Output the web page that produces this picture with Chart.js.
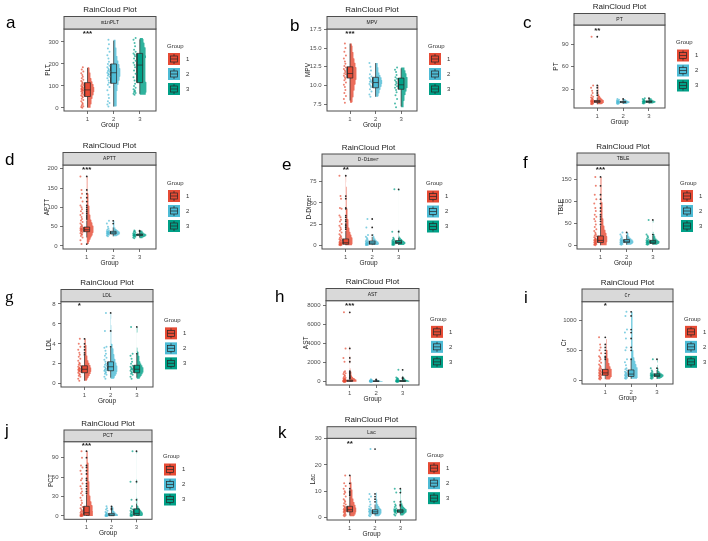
<!DOCTYPE html>
<html><head><meta charset="utf-8">
<script src="https://cdn.jsdelivr.net/npm/chart.js@4.4.1/dist/chart.umd.min.js"></script>
<style>
html,body{margin:0;padding:0;background:#fff;width:708px;height:541px;overflow:hidden;}
canvas{position:absolute;left:0;top:0;}
</style></head><body>
<script>
// ---------- DATA ----------
const groupLabels = ['1','2','3'];
const groupColors = ['#E64B35','#4DBBD5','#00A087'];

// a: minPLT
const minPLT_rain = [
 [1,4,8,12,18,24,30,36,42,48,52,56,60,64,68,72,75,78,80,82,84,86,88,91,94,97,100,104,108,112,117,122,128,135,142,150,158,166,175,185],
 [6,15,22,30,45,60,80,95,105,115,125,135,142,148,152,156,160,164,168,172,178,185,192,200,210,225,240,255,270,290,310],
 [60,64,68,72,76,80,85,92,100,110,125,140,155,170,185,195,205,215,225,235,242,248,255,265,280,295,310,318]];
const minPLT_box = [[2,52,82,115,182],[6,112,160,200,306],[64,115,195,248,312]];
const minPLT_out = [[],[],[]];
const minPLT_ticks = [0,100,200,300];
const minPLT_range = [-14,359];

// b: MPV
const MPV_rain = [
 [7.7,8.2,8.6,9.0,9.4,9.8,10.1,10.4,10.7,10.9,11.1,11.3,11.5,11.6,11.8,12.0,12.2,12.4,12.6,12.9,13.2,13.6,14.0,14.5,15.0,15.6],
 [8.5,8.8,9.2,9.5,9.8,10.0,10.2,10.4,10.5,10.6,10.8,11.0,11.2,11.5,12.0,12.5,13.0],
 [7.1,7.6,8.2,8.7,9.1,9.4,9.7,9.9,10.1,10.3,10.5,10.7,10.9,11.1,11.4,11.8,12.1,12.4]];
const MPV_box = [[8.0,11.0,11.6,12.5,15.6],[8.5,9.7,10.4,11.1,13.0],[7.2,9.5,10.1,11.0,12.3]];
const MPV_out = [[],[],[]];
const MPV_ticks = [7.5,10,12.5,15,17.5];
const MPV_range = [6.6,17.55];

// c: PT
const PT_rain = [
 [10,10.5,11,11.5,12,12.5,13,13.3,13.6,14,14.4,14.8,15.3,16,17,18,19,20,22,25,28,32,35,100],
 [10.5,11,11.5,12,12.3,12.6,12.9,13.2,13.5,14,14.5,15,16,17],
 [11,11.5,12,12.5,13,13.3,13.6,14,14.5,15,16,17,18]];
const PT_box = [[10,12.5,13.6,15,19],[10.5,12.2,13,13.8,16],[11,12.5,13.5,14.5,17]];
const PT_out = [[22,25,28,32,35,100],[17],[18]];
const PT_ticks = [30,60,90];
const PT_range = [5,115.7];

// d: APTT
const APTT_rain = [
 [5,15,22,26,29,31,33,35,37,38,40,41,42,43,44,45,46,48,50,52,55,58,62,66,70,75,80,85,90,95,100,105,115,125,135,145,180],
 [25,27,29,30,31,32,33,34,35,36,37,38,40,42,45,50,58,65],
 [20,22,24,25,26,27,28,28.5,29,30,31,32,34,36,38,40]];
const APTT_box = [[22,37,42,49,66],[25,31,34,38,48],[22,27,29,31,37]];
const APTT_out = [[5,70,75,80,85,90,95,100,105,115,125,135,145,180],[58,65],[38,40]];
const APTT_ticks = [0,50,100,150,200];
const APTT_range = [-7.8,209.6];

// e: D-Dimer
const DDimer_rain = [
 [0.1,0.3,0.5,0.8,1,1.3,1.6,2,2.4,2.8,3.2,3.7,4.2,4.8,5.5,6.3,7,8,9,10,11.5,13,15,17,19,21,23,25,28,30,33,35,43,44,55,58,82],
 [0.2,0.4,0.7,1,1.3,1.6,2,2.4,2.8,3.2,3.7,4.3,5,6,7,8.5,10,12,21,31],
 [0.3,0.6,1,1.4,1.8,2.2,2.6,3,3.5,4,4.5,5,5.5,6.5,7.5,9,16,66]];
const DDimer_box = [[0.1,1.2,3,7.5,17],[0.2,1.2,2.6,5,10],[0.3,2,3.3,5.5,9]];
const DDimer_out = [[19,21,23,25,28,30,33,35,43,44,55,58,82],[12,21,31],[16,66]];
const DDimer_ticks = [0,25,50,75];
const DDimer_range = [-4.4,93.5];

// f: TBLE
const TBLE_rain = [
 [1,2,3,4,5,6,7,8,9,10,11,12,13,14,15,17,19,21,23,26,29,33,37,42,48,55,60,65,70,78,85,95,105,115,135,155],
 [2,3,4,5,6,7,8,9,10,11,12,13,14,16,18,21,25,30],
 [2,3,4,5,6,7,7.5,8,9,10,11,12,14,16,19,22,25,58]];
const TBLE_box = [[1,7,12,22,45],[2,7,10,14,24],[2,5,8,12,22]];
const TBLE_out = [[48,55,60,65,70,78,85,95,105,115,135,155],[30],[25,58]];
const TBLE_ticks = [0,50,100,150];
const TBLE_range = [-7.5,182];

// g: LDL
const LDL_rain = [
 [0.3,0.5,0.7,0.8,0.9,1.0,1.1,1.2,1.25,1.3,1.35,1.4,1.45,1.5,1.55,1.6,1.7,1.8,1.9,2.0,2.1,2.3,2.5,2.7,2.9,3.1,3.4,3.7,4.0,4.5],
 [0.5,0.7,0.9,1.0,1.1,1.2,1.3,1.35,1.4,1.5,1.6,1.7,1.8,1.9,2.0,2.2,2.4,2.6,2.8,3.0,3.3,3.6,3.7,5.3,7.1],
 [0.5,0.7,0.9,1.0,1.1,1.2,1.3,1.4,1.45,1.5,1.6,1.7,1.8,2.0,2.2,2.5,2.8,3.0,5.7]];
const LDL_box = [[0.3,1.1,1.45,1.8,2.8],[0.6,1.3,1.7,2.2,3.6],[0.6,1.1,1.45,1.85,2.9]];
const LDL_out = [[2.9,3.1,3.4,3.7,4.0,4.5],[3.7,5.3,7.1],[3.0,5.7]];
const LDL_ticks = [0,2,4,6,8];
const LDL_range = [-0.33,8.23];

// h: AST
const AST_rain = [
 [5,10,15,20,25,30,35,40,50,60,70,80,90,100,120,140,160,190,220,260,300,350,420,500,600,700,800,900,1000,1100,2100,2500,3500,7300],
 [5,10,15,20,25,30,40,50,60,70,80,100,120,150,180,250],
 [5,10,15,20,30,40,50,60,80,100,130,160,200,250,300,350,450,1250]];
const AST_box = [[5,35,70,160,340],[5,25,45,85,170],[5,25,55,120,250]];
const AST_out = [[350,420,500,600,700,800,900,1000,1100,2100,2500,3500,7300],[180,250],[300,350,450,1250]];
const AST_ticks = [0,2000,4000,6000,8000];
const AST_range = [-350,8526];

// i: Cr
const Cr_rain = [
 [10,20,30,40,50,60,70,80,90,100,110,120,130,140,150,160,170,185,200,220,240,260,290,320,350,380,400,450,500,550,600,720],
 [20,30,40,50,60,70,80,90,100,110,125,140,160,180,200,250,300,350,500,550,700,800,850,1080,1150],
 [20,30,40,50,60,65,70,75,80,85,90,100,110,120,140,160,200,350]];
const Cr_box = [[15,80,120,180,340],[20,60,100,170,340],[20,60,80,105,170]];
const Cr_out = [[350,380,400,450,500,550,600,720],[350,500,550,700,800,850,1080,1150],[200,350]];
const Cr_ticks = [0,500,1000];
const Cr_range = [-67,1320];

// j: PCT
const PCT_rain = [
 [0.05,0.1,0.2,0.4,0.6,1,1.5,2,2.5,3,4,5,6,7,8,10,12,14,17,20,24,28,32,35,38,42,46,50,55,58,65,70,75,78,90,100],
 [0.05,0.1,0.2,0.4,0.7,1,1.5,2,3,4,5,6,8,10,12,15],
 [0.1,0.3,0.6,1,1.5,2,3,4,5,6,7,8,10,12,15,25,53,100]];
const PCT_box = [[0.05,1,5,15,33],[0.05,0.5,1.5,4,9],[0.1,1,4,11,19]];
const PCT_out = [[35,38,42,46,50,55,58,65,70,75,78,90,100],[10,12,15],[25,53,100]];
const PCT_ticks = [0,30,60,90];
const PCT_range = [-5.1,114.7];

// k: Lac
const Lac_rain = [
 [0.5,0.8,1,1.3,1.6,1.9,2.1,2.3,2.5,2.7,2.9,3.1,3.3,3.5,3.8,4.1,4.5,5,5.5,6,6.5,7,8,9,9.5,10,11,12,13,16],
 [0.5,0.8,1.1,1.4,1.7,2,2.2,2.4,2.6,2.8,3,3.3,3.7,4.2,5,6,7,8,9,26],
 [0.8,1.2,1.6,1.9,2.1,2.3,2.5,2.6,2.7,2.8,3,3.2,3.5,4,4.5,5,6,9.5,11]];
const Lac_box = [[0.8,2.2,3,4.3,8],[0.8,1.5,2.2,3,5],[1.2,2,2.5,3,4.3]];
const Lac_out = [[8.5,9,9.5,10,11,13,16],[6,7,8,9,26],[4.5,5,6,9.5,11]];
const Lac_ticks = [0,10,20,30];
const Lac_range = [-0.9,30.1];

// ---------- PANELS (text + layout) ----------
const FF = "'Liberation Sans', Arial, sans-serif";
const MONO = "'Liberation Mono', 'DejaVu Sans Mono', monospace";
const PANELS = [
 {key:'a',strip:'minPLT',mono:true,ytitle:'PLT',sig:'***',sigX:1,sigY:345,rain:minPLT_rain,box:minPLT_box,out:minPLT_out,ticks:minPLT_ticks,range:minPLT_range,
  L:64,R:156,T:29,B:111,S:16.5,lx:6,ly:28,ytx:48},
 {key:'b',strip:'MPV',ytitle:'MPV',sig:'***',sigX:1,sigY:17.2,rain:MPV_rain,box:MPV_box,out:MPV_out,ticks:MPV_ticks,range:MPV_range,
  L:327,R:417,T:29,B:111,S:16.5,lx:290,ly:31,ytx:308},
 {key:'c',strip:'PT',ytitle:'PT',sig:'**',sigX:1,sigY:111,rain:PT_rain,box:PT_box,out:PT_out,ticks:PT_ticks,range:PT_range,
  L:574,R:665,T:25,B:108,S:13.5,lx:523,ly:28,ytx:556},
 {key:'d',strip:'APTT',ytitle:'APTT',sig:'***',sigX:1,sigY:203,rain:APTT_rain,box:APTT_box,out:APTT_out,ticks:APTT_ticks,range:APTT_range,
  L:63,R:156,T:165,B:249,S:152.5,lx:5,ly:165,ytx:47.7},
 {key:'e',strip:'D-Dimer',mono:true,ytitle:'D-Dimer',sig:'**',sigX:1,sigY:91,rain:DDimer_rain,box:DDimer_box,out:DDimer_out,ticks:DDimer_ticks,range:DDimer_range,
  L:322,R:415,T:166,B:249,S:154,lx:282,ly:170,ytx:309},
 {key:'f',strip:'TBLE',ytitle:'TBLE',sig:'***',sigX:1,sigY:176,rain:TBLE_rain,box:TBLE_box,out:TBLE_out,ticks:TBLE_ticks,range:TBLE_range,
  L:577,R:669,T:165,B:249,S:153,lx:523,ly:168,ytx:561.7},
 {key:'g',strip:'LDL',ytitle:'LDL',sig:'*',sigX:0.8,sigY:7.97,rain:LDL_rain,box:LDL_box,out:LDL_out,ticks:LDL_ticks,range:LDL_range,
  L:61,R:153,T:301.7,B:387,S:289.5,lx:5,ly:302,ytx:49,serif:true},
 {key:'h',strip:'AST',ytitle:'AST',sig:'***',sigX:1,sigY:8180,rain:AST_rain,box:AST_box,out:AST_out,ticks:AST_ticks,range:AST_range,
  L:326,R:419,T:300.7,B:385,S:288.5,lx:275,ly:302,ytx:306.7},
 {key:'i',strip:'Cr',mono:true,ytitle:'Cr',sig:'*',sigX:1,sigY:1280,rain:Cr_rain,box:Cr_box,out:Cr_out,ticks:Cr_ticks,range:Cr_range,
  L:582,R:673,T:301.7,B:384,S:289,lx:524,ly:303,ytx:564.3},
 {key:'j',strip:'PCT',ytitle:'PCT',sig:'***',sigX:1,sigY:112,rain:PCT_rain,box:PCT_box,out:PCT_out,ticks:PCT_ticks,range:PCT_range,
  L:64,R:152,T:441.7,B:519.3,S:430,lx:5,ly:436,ytx:51.7},
 {key:'k',strip:'Lac',mono:true,ytitle:'Lac',sig:'**',sigX:1,sigY:28.9,rain:Lac_rain,box:Lac_box,out:Lac_out,ticks:Lac_ticks,range:Lac_range,
  L:327,R:416,T:438.3,B:520,S:426.7,lx:278,ly:438,ytx:313.3}
];

const XMIN = 0.1, XMAX = 3.62, YW = 22, XH = 16;
const BW = 0.11, RAIN_OFF = 0.2, VW = 0.26;
const JIT = [0,-0.04,0.04,-0.02,0.02];

function kde(vals, lo, hi, n){
  const m = vals.length;
  const mean = vals.reduce((s,v)=>s+v,0)/m;
  const sd = Math.sqrt(vals.reduce((s,v)=>s+(v-mean)*(v-mean),0)/Math.max(m-1,1));
  const s = [...vals].sort((x,y)=>x-y);
  const q = p => { const h=(m-1)*p, i=Math.floor(h); return s[i]+(h-i)*(s[Math.min(i+1,m-1)]-s[i]); };
  const iqr = q(0.75)-q(0.25);
  let bw = 0.9*Math.min(sd, iqr>0 ? iqr/1.34 : sd)*Math.pow(m,-0.2);
  if(!(bw>0)) bw = 1;
  const out=[];
  for(let i=0;i<n;i++){ const y=lo+(hi-lo)*i/(n-1); let d=0; for(const v of vals){ const z=(y-v)/bw; d+=Math.exp(-0.5*z*z);} out.push([y,d]); }
  return out;
}

function makeDeco(p){
  return {
    id:'deco_'+p.key,
    afterDatasetsDraw(chart){
      const ctx=chart.ctx, a=chart.chartArea, xs=chart.scales.x, ys=chart.scales.y;
      ctx.save();
      ctx.strokeStyle='#4D4D4D'; ctx.lineWidth=1;
      ctx.strokeRect(a.left,a.top,a.right-a.left,a.bottom-a.top);
      ctx.fillStyle='#1a1a1a'; ctx.font='bold 8px '+FF; ctx.textAlign='center'; ctx.textBaseline='middle';
      ctx.fillText(p.sig, xs.getPixelForValue(p.sigX), ys.getPixelForValue(p.sigY)+2);
      ctx.restore();
    },
    afterDraw(chart){
      const ctx=chart.ctx, a=chart.chartArea;
      const cx=(a.left+a.right)/2, cy=(a.top+a.bottom)/2;
      ctx.save();
      // strip
      ctx.fillStyle='#D9D9D9'; ctx.fillRect(a.left,p.S,a.right-a.left,a.top-p.S);
      ctx.strokeStyle='#4D4D4D'; ctx.lineWidth=1; ctx.strokeRect(a.left,p.S,a.right-a.left,a.top-p.S);
      ctx.fillStyle='#1a1a1a'; ctx.textAlign='center'; ctx.textBaseline='middle';
      ctx.font=(p.mono?'5px '+MONO:'5px '+FF);
      ctx.fillText(p.strip, cx, (p.S+a.top)/2);
      // title
      ctx.font='8px '+FF; ctx.fillStyle='#222';
      ctx.fillText('RainCloud Plot', cx, p.S-6.5);
      // panel letter
      ctx.textAlign='left'; ctx.textBaseline='alphabetic'; ctx.fillStyle='#000';
      ctx.font='17px '+(p.serif?"'Liberation Serif', serif":FF);
      ctx.fillText(p.key, p.lx, p.ly);
      // axis titles
      ctx.fillStyle='#222'; ctx.font='6.5px '+FF; ctx.textAlign='center'; ctx.textBaseline='middle';
      ctx.fillText('Group', cx, a.bottom+14);
      ctx.save(); ctx.translate(p.ytx, cy); ctx.rotate(-Math.PI/2); ctx.fillText(p.ytitle,0,0); ctx.restore();
      // legend
      const kx=a.right+12;
      ctx.textAlign='left'; ctx.font='6px '+FF; ctx.fillStyle='#333';
      ctx.fillText('Group', kx-1, cy-24);
      for(let i=0;i<3;i++){
        const ky=cy-17+i*15;
        ctx.fillStyle=groupColors[i]; ctx.fillRect(kx,ky,12,12);
        ctx.strokeStyle='#262626'; ctx.lineWidth=0.7;
        ctx.fillRect(kx+2.5,ky+3,7,6);
        ctx.strokeRect(kx+2.5,ky+3,7,6);
        ctx.beginPath();
        ctx.moveTo(kx+2.5,ky+6); ctx.lineTo(kx+9.5,ky+6);
        ctx.moveTo(kx+6,ky+1); ctx.lineTo(kx+6,ky+3);
        ctx.moveTo(kx+6,ky+9); ctx.lineTo(kx+6,ky+11);
        ctx.stroke();
        ctx.fillStyle='#333'; ctx.fillText(groupLabels[i], kx+18, ky+6);
      }
      ctx.restore();
    }
  };
}

function buildPanel(p){
  const cv=document.createElement('canvas'); cv.width=708; cv.height=541;
  document.body.appendChild(cv);
  const datasets=[];
  for(let gi=0;gi<3;gi++){
    const g=gi+1, col=groupColors[gi];
    const rain=p.rain[gi], box=p.box[gi], out=p.out[gi];
    const lo=Math.min(...rain), hi=Math.max(...rain);
    const dens=kde(rain,lo,hi,150);
    const dmax=Math.max(...dens.map(d=>d[1]));
    const vdata=dens.map(([y,d])=>({x:g+VW*d/dmax,y}));
    vdata.push({x:g,y:hi},{x:g,y:lo});
    datasets.push({data:vdata,showLine:true,fill:'shape',backgroundColor:col+'D0',borderColor:'rgba(0,0,0,0)',borderWidth:0.1,pointRadius:0,order:50});
    const [wl,q1,md,q3,wh]=box;
    datasets.push({data:[{x:g-BW,y:q1},{x:g+BW,y:q1},{x:g+BW,y:q3},{x:g-BW,y:q3},{x:g-BW,y:q1}],showLine:true,fill:'shape',
      backgroundColor:col,borderColor:'#262626',borderWidth:0.7,pointRadius:0,order:40});
    datasets.push({data:[{x:g,y:wl},{x:g,y:q1},{x:g,y:null},{x:g,y:q3},{x:g,y:wh},{x:g,y:null},{x:g-BW,y:md},{x:g+BW,y:md}],
      showLine:true,spanGaps:false,fill:false,borderColor:'#262626',borderWidth:0.7,pointRadius:0,order:30});
    datasets.push({data:out.map(v=>({x:g,y:v})),pointRadius:0.9,backgroundColor:'#262626',borderWidth:0,order:20});
    datasets.push({data:rain.map((v,i)=>({x:g-RAIN_OFF+JIT[i%JIT.length],y:v})),pointRadius:1,backgroundColor:col+'B3',borderWidth:0,order:10});
  }
  const dec = p.ticks.some(t=>t%1!==0)?1:0;
  new Chart(cv,{
    type:'scatter',
    data:{datasets},
    options:{
      responsive:false, animation:false, devicePixelRatio:1, events:[],
      layout:{padding:{left:p.L-YW,right:708-p.R,top:p.T,bottom:541-p.B-XH}},
      plugins:{legend:{display:false},tooltip:{enabled:false},title:{display:false}},
      scales:{
        x:{type:'linear',min:XMIN,max:XMAX,
          afterFit:s=>{s.height=XH;},
          afterBuildTicks:s=>{s.ticks=[1,2,3].map(v=>({value:v}));},
          ticks:{font:{size:6,family:FF},color:'#4D4D4D',padding:1.5,autoSkip:false,maxRotation:0,callback:v=>groupLabels[v-1]},
          grid:{drawOnChartArea:false,drawTicks:true,tickLength:3,color:'#333',lineWidth:0.7},
          border:{display:false}},
        y:{type:'linear',min:p.range[0],max:p.range[1],
          afterFit:s=>{s.width=YW;},
          afterBuildTicks:s=>{s.ticks=p.ticks.map(v=>({value:v}));},
          ticks:{font:{size:6,family:FF},color:'#4D4D4D',padding:2.5,autoSkip:false,callback:v=>Number(v).toFixed(dec)},
          grid:{drawOnChartArea:false,drawTicks:true,tickLength:3,color:'#333',lineWidth:0.7},
          border:{display:false}}
      }
    },
    plugins:[makeDeco(p)]
  });
}
PANELS.forEach(buildPanel);
</script>
</body></html>
